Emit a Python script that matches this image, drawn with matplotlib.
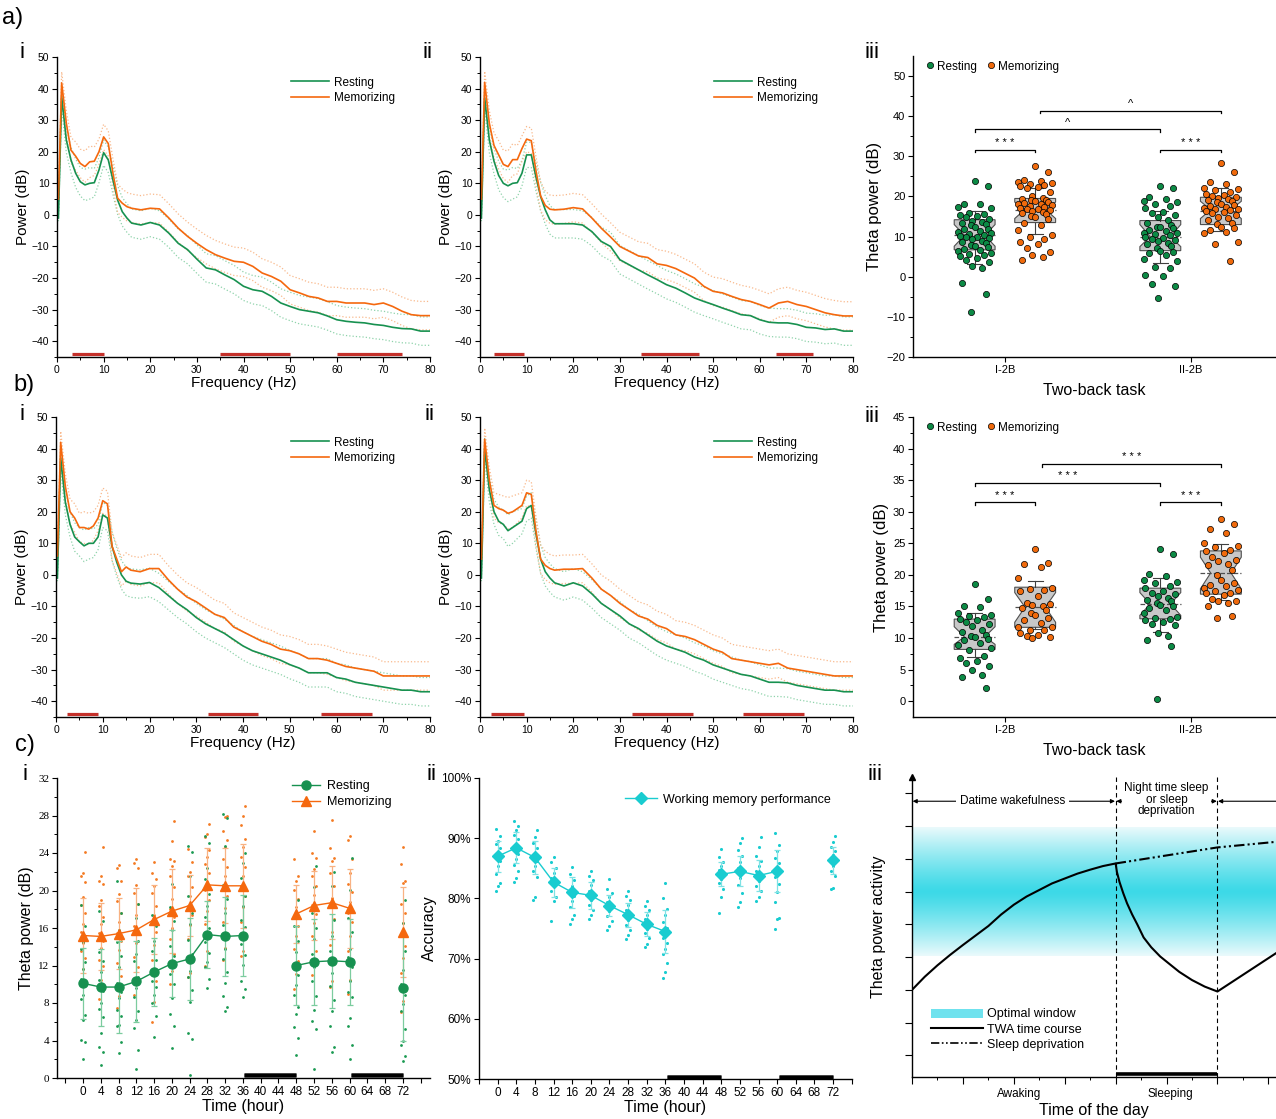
import numpy as np
import matplotlib
matplotlib.use('Agg')
import matplotlib.pyplot as plt
from matplotlib.lines import Line2D
from matplotlib.patches import Patch
from matplotlib.colors import LinearSegmentedColormap

plt.rcParams['font.family'] = ['Liberation Sans', 'DejaVu Sans']

W, H = 1276, 1119

# ---------------- data ----------------
freq = [0.3, 1, 2, 3, 4, 5, 6, 7, 8, 9, 10, 11, 12, 13, 14, 15, 16,
        18, 20, 22, 24, 26, 28, 30, 32, 34, 36, 38, 40, 42, 44, 46, 48, 50,
        52, 54, 56, 58, 60, 62, 64, 66, 68, 70, 72, 74, 76, 78, 80]

# spread of the dotted bands (dB)
psd_sem = [1, 3.5, 4, 4, 4.5, 4.5, 5, 5, 4.5, 4, 4, 4, 4.5, 4.5, 4.5, 4.5, 4.5,
           4.5, 4.5, 4.5, 4.5, 4.5, 4.5, 4.5, 4.5, 4.5, 4.5, 4.5, 4.5, 4.5, 4.5, 4.5, 4.5, 4.5,
           4.5, 4.5, 4.5, 4.5, 4.5, 4.5, 4.5, 4.5, 4.5, 4.5, 4.5, 4.5, 4.5, 4.5, 4.5]

rest_ai = [-1, 37.4, 23.7, 17.4, 13.2, 10.5, 9.5, 10, 10.2, 14.2, 19.7, 17.4, 11, 4.7, 1, -1, -2.6,
           -3.2, -2.4, -3.2, -5.8, -9, -11, -14, -16.8, -17.4, -19, -20.5, -22.6, -23.7, -24.2, -25.8,
           -27.9, -29, -30, -30.5, -31, -32, -33.2, -33.7, -34, -34.2, -34.7, -35, -35.6, -36, -36.1,
           -36.8, -36.8]
mem_ai = [5, 41.8, 29, 20.5, 18.6, 16.3, 15.3, 16.8, 17, 20, 24.7, 22.6, 13.2, 5.3, 3.7, 2.6, 2.1,
          1.6, 2.1, 1.9, -1, -4.2, -6.8, -9, -11, -12.6, -13.7, -14.7, -15, -16.3, -18.4, -19.5,
          -21, -23.7, -24.7, -25.8, -26.3, -27.4, -27.4, -27.9, -27.9, -27.9, -28.4, -27.9, -29,
          -30.5, -31.6, -31.9, -31.9]
rest_aii = [-1, 37, 23.7, 17, 12.5, 10, 9.2, 10, 10.2, 13.2, 19, 19, 12, 5.8, 1.6, -1.6, -2.8,
            -2.8, -2.8, -3.2, -5.3, -8.4, -10, -14.2, -15.8, -17.4, -19, -20.5, -22.1, -23.2, -24.7,
            -26.3, -27.4, -28.4, -29.5, -30.5, -31.6, -31.9, -33.2, -34, -34.2, -34.2, -34.7, -35.6,
            -35.8, -36.3, -36.1, -36.8, -36.8]
mem_aii = [5, 42, 29, 22, 19, 16, 15.3, 17.5, 17.5, 21, 24, 23.5, 14, 6, 3, 1.8, 1.6,
           1.8, 2.3, 1.9, -1, -4.2, -7, -10, -11.5, -13, -13.5, -15.5, -16, -17, -18.5, -20,
           -22.6, -24.2, -24.7, -25.8, -26.8, -27.4, -28.4, -29.5, -27.9, -27.4, -28.4, -29, -30,
           -31, -31.6, -32, -32]
rest_bi = [-1, 37, 23, 16, 12, 10.5, 9.2, 10, 10, 12, 19, 18, 9, 4, 0, -2, -2.6,
           -2.9, -2.4, -4, -6.5, -9, -11, -13.5, -15.5, -17, -18.5, -20.5, -22.5, -24, -25, -26,
           -27, -28.4, -29.5, -31, -31, -31, -32.5, -33, -34, -34.5, -35, -35.5, -36, -36.5, -36.5,
           -37, -37]
mem_bi = [6, 42, 28, 20, 18, 15, 15, 14.5, 15.5, 18, 23.5, 22.5, 9, 5, 1, 2.5, 1.5,
          1, 2, 2, -1.5, -4.5, -7, -8.5, -10.5, -12.5, -13.5, -16.5, -18, -19.5, -21, -22,
          -23.5, -24, -25, -26.5, -26.5, -27, -28, -29, -29.5, -30, -30.5, -32, -32, -32, -32,
          -32, -32]
rest_bii = [-1, 40, 27, 20, 17, 16, 14, 15, 16, 17, 21, 22, 13, 5, 1, -1, -2.5,
            -3.5, -2.5, -3.5, -6, -9, -11, -13, -15.5, -17, -19, -21, -22.5, -23.5, -24.5, -26,
            -27, -28.5, -29.5, -30.5, -31.5, -32, -33, -34, -34, -34.2, -35, -35.5, -36, -36.5,
            -36.5, -37, -37]
mem_bii = [5, 43, 30, 22, 21, 20.5, 19.5, 20, 21, 22, 26, 25.5, 14, 5, 3, 2, 1.5,
           1.8, 1.8, 2, -1, -4.5, -6.5, -9, -11, -13, -14, -16, -17, -19, -19.5, -20.5,
           -22, -23.5, -24.5, -26.5, -27, -27.5, -28, -28.5, -28, -29.5, -30, -30.5, -31, -31.5,
           -32, -32, -32]

# significant frequency ranges (Hz)
sig_ai = [(3.3, 10), (35, 50), (60, 74)]
sig_aii = [(2.9, 9.5), (34.6, 47), (63.4, 71.4)]
sig_bi = [(2.4, 9.0), (32.6, 43.2), (56.6, 67.6)]
sig_bii = [(2.3, 9.5), (32.6, 45.6), (56.4, 69.5)]

task_labels = ['I-2B', 'II-2B']

# a-iii theta power per subject
rest_a1 = [23.9, 22.7, 18.2, 18.0, 17.5, 17.2, 16.0, 15.6, 15.3, 15.1, 14.9, 14.5, 14.0, 13.7, 13.4,
           13.1, 12.8, 12.5, 12.0, 11.8, 11.5, 11.2, 10.9, 10.6, 10.4, 10.2, 10.0, 9.8, 9.6, 9.3,
           9.0, 8.7, 8.3, 8.0, 7.6, 7.3, 7.0, 6.6, 6.3, 6.0, 5.7, 5.4, 5.2, 4.6, 4.1, 3.7, 2.6, 2.2,
           -1.6, -4.2, -8.7]
mem_a1 = [27.5, 26.0, 24.2, 23.9, 23.7, 23.3, 23.1, 22.9, 22.7, 22.4, 22.2, 21.2, 20.0, 19.7, 19.4,
          19.2, 19.0, 18.8, 18.6, 18.4, 18.2, 18.0, 17.8, 17.6, 17.4, 17.2, 17.0, 16.8, 16.6, 16.4,
          16.2, 16.0, 15.6, 15.2, 14.8, 14.4, 13.3, 12.9, 11.7, 10.4, 9.8, 9.3, 8.7, 8.2, 7.1, 6.2,
          5.4, 5.0, 4.2]
rest_a2 = [22.5, 22.2, 19.8, 19.4, 18.8, 18.5, 18.1, 17.7, 17.1, 16.2, 15.8, 15.4, 15.0, 14.2, 13.5,
           12.9, 12.5, 12.3, 12.1, 11.7, 11.3, 11.0, 10.8, 10.6, 10.4, 10.0, 9.7, 9.4, 9.2, 8.8, 8.5,
           8.2, 7.7, 7.1, 6.5, 6.2, 5.8, 5.5, 4.3, 3.8, 2.5, 2.1, 0.4, 0.2, -1.7, -2.2, -5.2]
mem_a2 = [28.3, 26.2, 23.5, 23.2, 22.1, 21.8, 21.5, 21.0, 20.7, 20.4, 20.1, 19.9, 19.7, 19.4, 19.1,
          18.8, 18.5, 18.2, 17.9, 17.7, 17.5, 17.2, 17.0, 16.8, 16.6, 16.4, 16.1, 15.8, 15.4, 15.0,
          14.6, 14.2, 13.5, 13.1, 12.5, 12.1, 11.7, 11.2, 10.9, 8.6, 8.2, 3.9]
# box stats (q1, med, q3, whisker low, whisker high, notch low, notch high, mean)
box_a = [(6.7, 10.3, 14.2, 3.1, 16.3, 7.6, 13.0, 10.3),
         (13.5, 16.8, 19.5, 10.7, 22.2, 14.5, 18.6, 16.6),
         (6.5, 10.0, 14.0, 3.5, 16.4, 7.5, 13.0, 10.0),
         (13.0, 16.7, 19.8, 11.5, 22.0, 14.5, 18.8, 16.5)]

# b-iii theta power per subject
rest_b1 = [18.5, 16.2, 15.1, 14.9, 14.0, 13.7, 13.5, 13.3, 13.0, 12.8, 12.5, 12.2, 11.9, 11.3, 11.0,
           10.5, 10.3, 10.1, 9.9, 9.7, 9.2, 8.9, 8.4, 8.1, 7.1, 6.8, 6.3, 6.1, 5.6, 4.9, 4.1, 3.8, 2.1]
mem_b1 = [24.1, 21.9, 21.7, 21.3, 19.5, 18.0, 17.8, 17.6, 17.4, 16.6, 15.6, 15.4, 15.3, 15.0, 14.7,
          14.5, 13.9, 13.7, 13.2, 12.9, 12.4, 11.8, 11.7, 11.3, 11.2, 10.8, 10.5, 10.3, 10.2, 10.0]
rest_b2 = [24.1, 23.3, 20.1, 19.9, 19.2, 18.9, 18.7, 18.3, 18.0, 17.4, 17.1, 16.9, 16.7, 16.3, 16.0,
           15.8, 15.5, 15.3, 15.0, 14.7, 14.5, 13.9, 13.4, 13.2, 13.0, 12.9, 12.5, 12.3, 12.1, 10.8,
           10.3, 9.7, 8.7, 0.4]
mem_b2 = [28.9, 28.0, 27.2, 26.7, 25.1, 24.6, 24.4, 23.9, 23.8, 23.4, 22.9, 22.4, 22.2, 21.7, 21.5,
          20.7, 20.0, 19.2, 18.7, 18.4, 18.2, 17.9, 17.6, 17.4, 17.2, 17.1, 16.8, 16.2, 15.9, 15.8,
          15.5, 15.0, 13.5, 13.2]
box_b = [(8.2, 10.2, 13.0, 7.0, 13.9, 9.0, 11.8, 10.2),
         (11.7, 14.9, 18.05, 11.4, 19.05, 12.5, 17.2, 14.9),
         (13.05, 15.4, 17.9, 10.9, 19.5, 13.6, 17.2, 15.4),
         (16.95, 20.3, 23.8, 16.05, 24.9, 17.8, 22.8, 20.3)]

# c-i theta power over time
hours = [0, 4, 8, 12, 16, 20, 24, 28, 32, 36, 48, 52, 56, 60, 72]
rest_mean = [10.1, 9.7, 9.7, 10.3, 11.3, 12.2, 12.7, 15.3, 15.1, 15.2, 12.0, 12.4, 12.5, 12.4, 9.6]
rest_sd = [3.8, 4.1, 4.9, 4.3, 3.6, 3.6, 4.4, 3.6, 4.2, 4.3, 4.2, 4.6, 5.0, 4.6, 5.7]
mem_mean = [15.2, 15.1, 15.4, 15.8, 16.9, 17.8, 18.4, 20.6, 20.5, 20.5, 17.5, 18.4, 18.7, 18.1, 15.6]
mem_sd = [4.0, 3.6, 3.8, 4.5, 3.7, 4.5, 3.3, 3.9, 4.0, 4.5, 3.1, 3.7, 3.9, 4.2, 4.8]
rest_dots = [
    [2.0, 3.8, 4.1, 6.2, 6.7, 8.4, 8.9, 9.9, 10.6, 11.6, 12.4, 13.8, 14.5, 16.2, 18.5],
    [1.4, 2.8, 3.3, 4.8, 6.5, 7.4, 8.0, 9.3, 10.5, 11.3, 12.5, 13.4, 15.0, 16.8, 17.8],
    [2.7, 3.8, 5.5, 5.7, 6.6, 7.3, 8.5, 9.2, 10.1, 11.8, 13.0, 14.5, 15.8, 17.6, 21.0],
    [1.0, 3.0, 5.3, 6.2, 7.2, 8.6, 9.6, 10.8, 12.5, 13.2, 14.6, 15.6, 17.1, 18.6],
    [4.4, 6.6, 8.0, 8.9, 9.7, 10.4, 11.5, 12.6, 13.5, 14.6, 16.2, 17.4],
    [3.2, 5.6, 6.8, 8.5, 10.0, 11.1, 12.0, 13.0, 14.1, 15.8, 16.8, 18.2, 20.7],
    [0.3, 4.2, 4.8, 8.1, 9.4, 10.8, 11.4, 13.2, 14.7, 16.4, 17.6, 19.4, 21.6, 24.1, 24.8],
    [9.6, 10.6, 11.8, 12.4, 13.3, 14.5, 15.2, 16.0, 17.2, 18.4, 19.6, 21.2, 22.4, 25.1, 25.8],
    [7.2, 7.6, 8.7, 10.1, 11.3, 12.7, 13.8, 15.2, 16.3, 17.6, 19.1, 20.6, 24.7, 27.7, 28.2],
    [8.6, 9.5, 10.4, 12.1, 13.1, 14.3, 15.2, 16.1, 16.9, 18.4, 19.4, 21.3, 22.9, 24.0],
    [2.5, 4.3, 5.4, 6.8, 7.6, 8.9, 9.9, 11.0, 12.2, 13.4, 14.6, 16.2, 17.4, 19.0],
    [1.0, 5.2, 6.1, 7.3, 8.8, 10.4, 11.8, 12.3, 13.2, 14.8, 16.0, 17.6, 20.4, 22.6],
    [2.8, 3.3, 5.5, 7.1, 8.3, 9.8, 11.2, 12.4, 13.6, 15.1, 16.9, 18.3, 20.5, 22.0],
    [2.0, 3.5, 5.5, 6.4, 8.6, 9.2, 10.4, 11.8, 12.9, 13.8, 15.6, 17.1, 20.1, 23.5],
    [1.8, 2.3, 3.5, 4.0, 5.2, 7.2, 7.9, 8.9, 10.0, 11.5, 13.5, 15.1, 16.5, 19.0],
]
mem_dots = [
    [10.2, 11.6, 12.8, 13.5, 14.4, 15.0, 15.6, 16.4, 17.6, 18.5, 19.3, 20.9, 21.6, 21.9, 24.1],
    [8.4, 10.5, 11.9, 12.6, 13.9, 14.6, 15.5, 16.4, 17.2, 18.4, 19.0, 20.7, 21.0, 21.5, 24.6],
    [7.5, 8.8, 10.9, 12.3, 13.7, 14.6, 15.5, 16.6, 17.6, 18.9, 19.6, 21.0, 22.4, 22.7],
    [8.9, 10.3, 11.8, 12.9, 14.4, 15.6, 16.2, 17.4, 18.6, 19.7, 20.6, 22.4, 22.9, 23.4],
    [6.0, 8.1, 10.4, 12.6, 14.2, 15.6, 16.8, 17.4, 18.4, 19.7, 20.5, 21.2, 21.9, 23.0],
    [10.0, 11.4, 13.2, 14.8, 16.0, 17.2, 18.0, 19.1, 20.4, 21.6, 22.6, 23.2, 23.4, 25.3, 27.4],
    [10.8, 11.2, 13.0, 14.8, 16.3, 17.4, 18.4, 19.4, 20.4, 21.6, 22.0, 23.0, 24.4],
    [12.0, 13.6, 15.0, 16.4, 17.8, 19.0, 20.1, 20.9, 21.9, 22.8, 23.6, 24.3, 25.7, 26.0, 27.1],
    [12.6, 13.9, 15.3, 16.6, 18.1, 19.4, 20.4, 21.5, 22.5, 23.4, 24.6, 25.4, 26.3, 27.8, 28.0],
    [13.0, 13.5, 15.4, 16.6, 18.2, 19.4, 20.5, 21.5, 22.5, 23.6, 24.6, 25.5, 27.0, 28.0, 29.0],
    [9.5, 11.1, 12.5, 13.8, 15.2, 16.2, 17.2, 18.2, 19.1, 20.1, 21.0, 21.6, 23.4],
    [11.0, 12.2, 13.6, 15.2, 16.5, 17.5, 18.5, 19.5, 20.5, 21.5, 22.3, 23.5, 24.0, 26.4],
    [9.7, 10.4, 12.6, 14.2, 15.6, 17.0, 18.2, 19.2, 20.5, 21.9, 23.2, 23.5, 24.5, 27.5],
    [9.0, 10.5, 12.1, 13.6, 15.1, 16.6, 17.6, 18.8, 19.8, 20.7, 21.9, 23.4, 25.4, 25.8],
    [7.0, 8.2, 9.6, 11.2, 12.8, 14.1, 15.3, 16.5, 17.6, 18.6, 20.8, 21.0, 22.8, 24.6],
]

# c-ii accuracy over time (%)
acc_mean = [87.0, 88.4, 86.8, 82.7, 81.0, 80.5, 78.8, 77.3, 75.7, 74.5, 84.0, 84.5, 83.8, 84.5, 86.3]
acc_sd = [2.6, 2.6, 2.8, 2.4, 2.6, 2.2, 1.8, 2.0, 2.0, 3.6, 2.0, 2.5, 2.5, 3.5, 2.3]
acc_dots = [
    [81.2, 82.0, 82.6, 84.1, 85.3, 86.2, 87.0, 87.6, 88.3, 89.0, 89.6, 90.4, 91.5],
    [82.7, 83.4, 84.5, 85.6, 86.6, 87.4, 88.2, 89.0, 89.8, 90.6, 91.3, 92.1, 92.8],
    [79.8, 80.2, 83.5, 84.5, 85.4, 86.2, 86.9, 87.6, 88.4, 89.2, 90.2, 91.3],
    [76.2, 79.6, 80.3, 81.2, 82.0, 82.7, 83.4, 84.2, 85.0, 86.0, 86.9],
    [75.8, 76.6, 77.3, 78.6, 79.5, 80.4, 81.2, 82.0, 83.0, 84.0, 85.2],
    [76.5, 77.2, 78.0, 78.9, 79.7, 80.5, 81.3, 82.2, 83.0, 83.8, 84.5],
    [74.8, 75.4, 76.3, 77.1, 77.9, 78.6, 79.4, 80.2, 80.9, 81.6, 83.3],
    [73.2, 73.9, 74.7, 75.6, 76.4, 77.3, 78.1, 78.9, 79.7, 80.4, 81.2],
    [72.0, 72.5, 73.5, 74.3, 75.0, 75.8, 76.5, 77.3, 78.0, 78.8, 79.5],
    [66.8, 67.8, 69.3, 70.7, 71.6, 72.6, 73.5, 74.3, 75.1, 76.0, 77.2, 78.2, 80.0, 82.5],
    [77.5, 80.3, 81.5, 82.5, 83.3, 84.0, 84.7, 85.4, 86.1, 86.8, 88.2],
    [78.5, 79.4, 80.9, 82.2, 83.4, 84.3, 85.1, 86.0, 87.0, 88.0, 89.2, 90.0],
    [79.5, 80.2, 81.2, 82.1, 82.9, 83.7, 84.5, 85.4, 86.2, 87.1, 88.5, 90.2],
    [75.0, 76.5, 76.8, 79.4, 81.0, 82.4, 83.6, 84.8, 85.8, 86.7, 87.8, 88.8, 90.8],
    [81.5, 81.8, 83.8, 84.6, 85.4, 86.0, 86.6, 87.2, 87.8, 88.5, 89.3, 90.3],
]
sleep_spans = [(36.3, 48), (60.3, 72)]

# c-iii conceptual model (time of day in hours, arbitrary theta units)
twa_x = [0, 1, 2, 3, 4, 5, 6, 7, 8, 9, 10, 11, 12, 13, 14, 15, 16,
         16.1, 16.3, 16.6, 16.9, 17.3, 17.7, 18.2, 18.8, 19.5, 20.2, 21.0, 22.0, 23.0, 24, 28.6]
twa_y = [2.0, 2.4, 2.75, 3.07, 3.37, 3.66, 3.95, 4.3, 4.6, 4.85, 5.05, 5.25, 5.4, 5.55, 5.67, 5.78, 5.86,
         5.6, 5.3, 4.95, 4.64, 4.3, 4.0, 3.6, 3.3, 3.02, 2.8, 2.55, 2.3, 2.1, 1.95, 3.12]
sd_x = [16, 24, 28.6]
sd_y = [5.86, 6.35, 6.52]
optimal_window = (3.02, 6.93)

green = '#179150'
orange = '#f5680e'
lgreen = '#8fd3ab'
lorange = '#f9b98c'
cyan = '#19ccd0'

# sideways spread pattern for the subject dots (fraction of half box width)
spread = [0.0, 0.7, -0.6, 0.3, -0.9, 0.9, -0.3, 0.5, -0.8, 0.15, -0.45, 0.8, -0.15, 0.4, -0.7, 0.6, -0.2]


def px(l, t, r, b):
    return [l / W, 1 - b / H, (r - l) / W, (b - t) / H]


def style(ax, fs=7.5):
    for s in ('top', 'right'):
        ax.spines[s].set_visible(False)
    for s in ('left', 'bottom'):
        ax.spines[s].set_linewidth(1.0)
    ax.tick_params(which='major', direction='out', length=3.5, width=0.8, labelsize=fs, pad=2)
    ax.tick_params(which='minor', direction='out', length=2, width=0.7)


fig = plt.figure(figsize=(W / 100, H / 100), dpi=100)


def draw_psd(rect, rest, mem, sig):
    ax = fig.add_axes(rect)
    r = np.array(rest)
    m = np.array(mem)
    s = np.array(psd_sem)
    ax.plot(freq, r + s, color=lgreen, ls=':', lw=0.9)
    ax.plot(freq, r - s, color=lgreen, ls=':', lw=0.9)
    ax.plot(freq, m + s, color=lorange, ls=':', lw=0.9)
    ax.plot(freq, m - s, color=lorange, ls=':', lw=0.9)
    ax.plot(freq, r, color=green, lw=1.2, label='Resting')
    ax.plot(freq, m, color=orange, lw=1.2, label='Memorizing')
    for a, b in sig:
        ax.plot([a, b], [-44.2, -44.2], color='#c4302a', lw=2.3, solid_capstyle='butt')
    ax.set_xlim(0, 80)
    ax.set_ylim(-45, 50)
    ax.set_xticks(range(0, 81, 10))
    ax.set_xticks(range(0, 81, 5), minor=True)
    ax.set_yticks(range(-40, 51, 10))
    ax.set_yticks(range(-45, 51, 5), minor=True)
    style(ax)
    ax.set_xlabel('Frequency (Hz)', fontsize=11, labelpad=1)
    ax.set_ylabel('Power (dB)', fontsize=11, labelpad=1)
    ax.legend(loc='upper left', bbox_to_anchor=(0.6, 0.97), frameon=False, fontsize=8.5,
              handlelength=3.2, handletextpad=0.4, labelspacing=0.3)
    return ax


draw_psd(px(57, 57, 430, 357), rest_ai, mem_ai, sig_ai)
draw_psd(px(480, 57, 853, 357), rest_aii, mem_aii, sig_aii)
draw_psd(px(56, 417, 430, 717), rest_bi, mem_bi, sig_bi)
draw_psd(px(480, 417, 853, 717), rest_bii, mem_bii, sig_bii)


def draw_box(rect, groups, stats, ylim, ymaj, ymin, brackets):
    ax = fig.add_axes(rect)
    pos = [1 - 0.163, 1 + 0.163, 2 - 0.163, 2 + 0.163]
    bst = []
    for q1, med, q3, lo, hi, clo, chi, mn in stats:
        bst.append(dict(q1=q1, med=med, q3=q3, whislo=lo, whishi=hi, cilo=clo, cihi=chi,
                        mean=mn, fliers=[]))
    ax.bxp(bst, positions=pos, widths=0.22, shownotches=True, patch_artist=True, showmeans=True,
           meanline=True, showfliers=False, manage_ticks=False, capwidths=0.08,
           boxprops=dict(facecolor='#c8c8c8', edgecolor='#505050', lw=0.8),
           medianprops=dict(lw=0),
           meanprops=dict(color='#505050', ls='--', lw=0.9),
           whiskerprops=dict(color='#404040', lw=0.8),
           capprops=dict(color='#404040', lw=0.8))
    cols = ['#0c8a45', '#f06a0c', '#0c8a45', '#f06a0c']
    for p, vals, c in zip(pos, groups, cols):
        offs = [0.1 * spread[i % len(spread)] for i in range(len(vals))]
        ax.scatter(np.array(offs) + p, vals, s=20, color=c, edgecolor='black', lw=0.5, zorder=3)
    for x1, x2, y, dy, txt in brackets:
        ax.plot([x1, x1, x2, x2], [y - dy, y, y, y - dy], color='black', lw=0.9)
        ax.text((x1 + x2) / 2, y + dy * 0.6, txt, ha='center', va='bottom', fontsize=8)
    ax.set_xlim(0.505, 2.46)
    ax.set_ylim(*ylim)
    ax.set_xticks([1, 2])
    ax.set_xticklabels(task_labels)
    ax.set_yticks(ymaj)
    ax.set_yticks(ymin, minor=True)
    style(ax, fs=8)
    ax.set_xlabel('Two-back task', fontsize=11.5, labelpad=6)
    ax.set_ylabel('Theta power (dB)', fontsize=12, labelpad=3)
    h = [Line2D([], [], ls='', marker='o', ms=4.5, mfc='#0c8a45', mec='black', mew=0.5),
         Line2D([], [], ls='', marker='o', ms=4.5, mfc='#f06a0c', mec='black', mew=0.5)]
    ax.legend(h, ['Resting', 'Memorizing'], loc='upper left', bbox_to_anchor=(0.0, 1.02), ncol=2,
              frameon=False, fontsize=8.5, handletextpad=0.1, columnspacing=0.7, handlelength=1.0)
    return ax


draw_box(px(913, 56, 1276, 357), [rest_a1, mem_a1, rest_a2, mem_a2], box_a, (-20, 55),
         range(-20, 51, 10), np.arange(-20, 55, 5),
         [(0.837, 1.163, 31.7, 0.7, '* * *'), (1.837, 2.163, 31.7, 0.7, '* * *'),
          (0.837, 1.837, 36.7, 0.7, '^'), (1.19, 2.163, 41.4, 0.7, '^')])
draw_box(px(913, 417, 1276, 717), [rest_b1, mem_b1, rest_b2, mem_b2], box_b, (-2.5, 45),
         range(0, 46, 5), np.arange(0, 46, 2.5),
         [(0.837, 1.163, 31.5, 0.45, '* * *'), (1.837, 2.163, 31.5, 0.45, '* * *'),
          (0.837, 1.837, 34.6, 0.45, '* * *'), (1.2, 2.163, 37.6, 0.45, '* * *')])


def segments(t):
    segs = [[0]]
    for i in range(1, len(t)):
        if t[i] - t[i - 1] > 4:
            segs.append([])
        segs[-1].append(i)
    return segs


jit = [-0.45, 0.0, 0.45]

# ---- c-i ----
ax = fig.add_axes(px(57, 778, 430, 1078))
for t, rd, md in zip(hours, rest_dots, mem_dots):
    ax.scatter([t + jit[i % 3] for i in range(len(md))], md, s=4, color='#f47a22', lw=0, zorder=2)
    ax.scatter([t + jit[(i + 1) % 3] for i in range(len(rd))], rd, s=4, color='#1a9a52', lw=0, zorder=2)
ax.errorbar(hours, mem_mean, yerr=mem_sd, fmt='none', ecolor='#f8b283', elinewidth=0.9, capsize=2.5,
            capthick=0.9, zorder=3)
ax.errorbar(hours, rest_mean, yerr=rest_sd, fmt='none', ecolor='#7ccc9f', elinewidth=0.9, capsize=2.5,
            capthick=0.9, zorder=3)
for seg in segments(hours):
    ax.plot([hours[i] for i in seg], [mem_mean[i] for i in seg], color=orange, lw=1.0, marker='^',
            ms=6.5, zorder=4)
    ax.plot([hours[i] for i in seg], [rest_mean[i] for i in seg], color=green, lw=1.0, marker='o',
            ms=6.5, zorder=4)
for a, b in sleep_spans:
    ax.plot([a, b], [0.35, 0.35], color='#555555', lw=3.6, solid_capstyle='butt', zorder=5)
    ax.plot([a, b], [0.35, 0.35], color='black', lw=2.4, solid_capstyle='butt', zorder=5)
ax.set_xlim(-5.85, 78.1)
ax.set_ylim(0, 32)
ax.set_xticks(range(-4, 77, 4))
ax.set_xticklabels([''] + [str(t) for t in range(0, 73, 4)] + [''])
ax.set_yticks(range(0, 33, 4))
ax.set_yticks(range(0, 33, 2), minor=True)
style(ax, fs=8.5)
for lab in ax.get_yticklabels():
    lab.set_fontfamily('Liberation Serif')
    lab.set_fontsize(8)
ax.set_xlabel('Time (hour)', fontsize=11.5, labelpad=1)
ax.set_ylabel('Theta power (dB)', fontsize=11.5, labelpad=3)
h = [Line2D([], [], color=green, marker='o', ms=6.5, lw=1),
     Line2D([], [], color=orange, marker='^', ms=6.5, lw=1)]
ax.legend(h, ['Resting', 'Memorizing'], loc='upper left', bbox_to_anchor=(0.6, 1.03), frameon=False,
          fontsize=9, handlelength=2.2, labelspacing=0.3, handletextpad=0.6)

# ---- c-ii ----
ax = fig.add_axes(px(479, 778, 852, 1079))
for t, dd in zip(hours, acc_dots):
    ax.scatter([t + jit[i % 3] for i in range(len(dd))], dd, s=5, color=cyan, lw=0, zorder=2)
ax.errorbar(hours, acc_mean, yerr=acc_sd, fmt='none', ecolor='#7fe2e4', elinewidth=0.9, capsize=2.5,
            capthick=0.9, zorder=3)
for seg in segments(hours):
    ax.plot([hours[i] for i in seg], [acc_mean[i] for i in seg], color=cyan, lw=1.0, marker='D',
            ms=6.5, zorder=4)
for a, b in sleep_spans:
    ax.plot([a, b], [50.4, 50.4], color='#555555', lw=3.6, solid_capstyle='butt', zorder=5)
    ax.plot([a, b], [50.4, 50.4], color='black', lw=2.4, solid_capstyle='butt', zorder=5)
ax.set_xlim(-4, 76.07)
ax.set_ylim(50, 100)
ax.set_xticks(range(-4, 77, 4))
ax.set_xticklabels([''] + [str(t) for t in range(0, 73, 4)] + [''])
ax.set_yticks(range(50, 101, 10))
ax.set_yticklabels(['%d%%' % v for v in range(50, 101, 10)])
style(ax, fs=8.5)
ax.set_xlabel('Time (hour)', fontsize=11.5, labelpad=1)
ax.set_ylabel('Accuracy', fontsize=11.5, labelpad=3)
h = [Line2D([], [], color=cyan, marker='D', ms=6.5, lw=1)]
ax.legend(h, ['Working memory performance'], loc='upper left', bbox_to_anchor=(0.36, 0.985),
          frameon=False, fontsize=9, handlelength=2.6, handletextpad=0.5)

# ---- c-iii ----
ax = fig.add_axes(px(912, 777, 1276, 1077))
cmap = LinearSegmentedColormap.from_list('win', ['#eafafc', '#3cd9e7'])
grad = 1 - np.abs(np.linspace(-1, 1, 256)) ** 1.2
ax.imshow(grad[:, None], extent=[0, 28.6, optimal_window[0], optimal_window[1]], aspect='auto',
          cmap=cmap, vmin=0, vmax=1, zorder=0, origin='lower')
ax.plot(twa_x, twa_y, color='black', lw=1.5, zorder=3)
ax.plot(sd_x, sd_y, color='black', lw=1.5, ls=(0, (5, 1.5, 1, 1.5, 1, 1.5)), zorder=3)
for xv in (16, 24):
    ax.plot([xv, xv], [-0.66, 8.5], color='black', lw=0.8, ls=(0, (4, 3)), zorder=2)
ax.plot([16, 24], [-0.58, -0.58], color='black', lw=2.6, solid_capstyle='butt', zorder=4)
ya = 7.76
ap = dict(arrowstyle='<|-|>', color='black', lw=0.8, mutation_scale=6, shrinkA=0, shrinkB=0)
ax.annotate('', xy=(0.05, ya), xytext=(15.95, ya), arrowprops=ap)
ax.annotate('', xy=(16.05, ya), xytext=(23.95, ya), arrowprops=ap)
ax.annotate('', xy=(24.05, ya), xytext=(28.6, ya),
            arrowprops=dict(arrowstyle='-|>', color='black', lw=0.8, mutation_scale=6,
                            shrinkA=0, shrinkB=0), annotation_clip=False)
ax.text(7.9, ya, 'Datime wakefulness', ha='center', va='center', fontsize=8.5,
        bbox=dict(facecolor='white', edgecolor='none', pad=2.5))
ax.text(20.0, ya + 0.05, 'Night time sleep\nor sleep\ndeprivation', ha='center', va='center',
        fontsize=8.5, linespacing=0.95, bbox=dict(facecolor='white', edgecolor='none', pad=1.5))
ax.set_xlim(0, 28.6)
ax.set_ylim(-0.66, 8.5)
ax.set_xticks(range(0, 29, 4))
ax.set_xticks(range(0, 29, 2), minor=True)
ax.set_xticklabels([])
ax.set_yticks(range(0, 9))
ax.set_yticklabels([])
style(ax)
ax.tick_params(which='major', length=5)
ax.plot(0, 1, marker='^', color='black', ms=5, transform=ax.transAxes, clip_on=False)
ax.text(8.4, -1.0, 'Awaking', ha='center', va='top', fontsize=8.5)
ax.text(20.3, -1.0, 'Sleeping', ha='center', va='top', fontsize=8.5)
ax.set_xlabel('Time of the day', fontsize=11.5, labelpad=12)
ax.set_ylabel('Theta power activity', fontsize=11.5, labelpad=12)
h = [Patch(facecolor='#6fe2ee', edgecolor='none'),
     Line2D([], [], color='black', lw=1.5),
     Line2D([], [], color='black', lw=1.2, ls=(0, (5, 1.5, 1, 1.5, 1, 1.5)))]
ax.legend(h, ['Optimal window', 'TWA time course', 'Sleep deprivation'], loc='lower left',
          bbox_to_anchor=(0.02, 0.05), frameon=False, fontsize=9, handlelength=4.2,
          handletextpad=0.3, labelspacing=0.25)

# ---- panel labels ----
for txt, x, y in [('a)', 2, 18), ('b)', 13, 385), ('c)', 15, 745)]:
    fig.text(x / W, 1 - y / H, txt, fontsize=17, va='center', ha='left')
for txt, x, y in [('i', 22, 52), ('ii', 428, 52), ('iii', 872, 53),
                  ('i', 22, 415), ('ii', 430, 415), ('iii', 872, 416),
                  ('i', 25, 774), ('ii', 432, 775), ('iii', 875, 775)]:
    fig.text(x / W, 1 - y / H, txt, fontsize=16, va='center', ha='center')

fig.savefig('out.png', dpi=100)
